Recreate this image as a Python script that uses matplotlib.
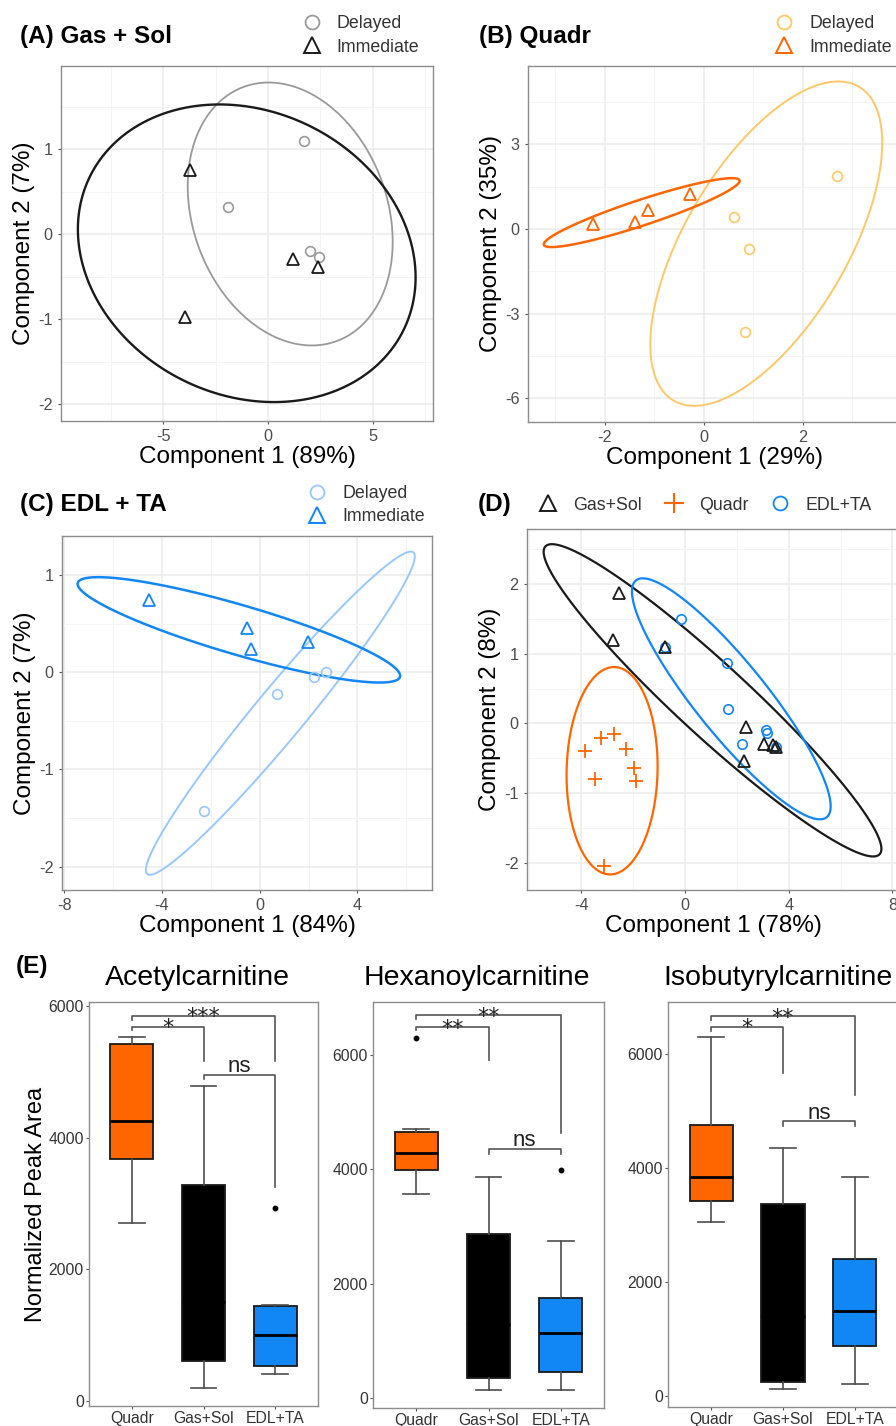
import numpy as np
import matplotlib.pyplot as plt
from matplotlib.lines import Line2D
from matplotlib.patches import Polygon

plt.rcParams['font.family'] = ['Liberation Sans', 'DejaVu Sans']
plt.rcParams['axes.unicode_minus'] = False

W, H = 896, 1426

# colours
ORANGE = '#FF6600'
LIGHT_ORANGE = '#FFC766'
BLUE = '#1187F5'
LIGHT_BLUE = '#96C8FF'
GREY = '#9A9A9A'
BLACK = '#1A1A1A'

# ---- (A) Gas + Sol scores ----
a_del_x = [1.7, -1.9, 2.0, 2.43]
a_del_y = [1.1, 0.32, -0.2, -0.27]
a_imm_x = [-3.7, 1.2, 2.4, -3.95]
a_imm_y = [0.75, -0.29, -0.39, -0.97]

# ---- (B) Quadr scores ----
b_del_x = [2.68, 0.6, 0.92, 0.84]
b_del_y = [1.88, 0.41, -0.72, -3.66]
b_imm_x = [-2.24, -1.38, -1.12, -0.28]
b_imm_y = [0.17, 0.23, 0.66, 1.25]

# ---- (C) EDL + TA scores ----
c_del_x = [-2.28, 0.72, 2.21, 2.72]
c_del_y = [-1.43, -0.22, -0.045, 0.006]
c_imm_x = [-4.51, -0.52, -0.37, 1.99]
c_imm_y = [0.74, 0.45, 0.24, 0.31]

# ---- (D) all muscles ----
d_gas_x = [-2.54, -2.76, -0.78, 2.35, 2.26, 3.06, 3.51, 3.4]
d_gas_y = [1.87, 1.20, 1.09, -0.05, -0.53, -0.29, -0.33, -0.31]
d_quad_x = [-3.84, -3.46, -3.22, -2.72, -2.27, -1.98, -1.88, -3.11]
d_quad_y = [-0.40, -0.79, -0.21, -0.15, -0.36, -0.63, -0.82, -2.04]
d_edl_x = [-0.15, 1.62, 1.64, 2.18, 3.12, 3.16, -0.78, 3.5]
d_edl_y = [1.50, 0.87, 0.21, -0.29, -0.09, -0.14, 1.09, -0.33]

# ---- (E) box plot summaries ----
groups = ['Quadr', 'Gas+Sol', 'EDL+TA']
box_colors = [ORANGE, '#000000', BLUE]

acetyl_lo = [2708, 202, 421]
acetyl_q1 = [3680, 618, 536]
acetyl_med = [4252, 1500, 1002]
acetyl_q3 = [5417, 3276, 1438]
acetyl_hi = [5528, 4788, 1468]
acetyl_out = [[], [], [2926]]
acetyl_sig_top = [5680, 5847, 4946]
acetyl_sig_left = [5623, 5786, 4890]
acetyl_sig_right = [5163, 5153, 3255]
acetyl_sig_lab = ['*', '***', 'ns']

hexa_lo = [3567, 135, 135]
hexa_q1 = [3982, 350, 450]
hexa_med = [4280, 1300, 1138]
hexa_q3 = [4648, 2862, 1741]
hexa_hi = [4701, 3860, 2750]
hexa_out = [[6300], [], [3988]]
hexa_sig_top = [6485, 6690, 4350]
hexa_sig_left = [6440, 6627, 4263]
hexa_sig_right = [5914, 4630, 4263]
hexa_sig_lab = ['**', '**', 'ns']

isob_lo = [3061, 123, 211]
isob_q1 = [3430, 240, 878]
isob_med = [3851, 1400, 1485]
isob_q3 = [4764, 3366, 2406]
isob_hi = [6292, 4355, 3846]
isob_out = [[], [], []]
isob_sig_top = [6481, 6660, 4820]
isob_sig_left = [6411, 6590, 4733]
isob_sig_right = [5668, 5285, 4733]
isob_sig_lab = ['*', '**', 'ns']

sig_pairs = [(1, 2), (1, 3), (2, 3)]

fig = plt.figure(figsize=(W / 100, H / 100), dpi=100)
fig.patch.set_facecolor('white')


def px_axes(l, t, r, b):
    return fig.add_axes([l / W, 1 - b / H, (r - l) / W, (b - t) / H])


def draw_ellipse(ax, x, y, color, lw, level=0.95, n=300):
    # normal-theory confidence ellipse around the group's points
    x = np.asarray(x, float)
    y = np.asarray(y, float)
    cov = np.cov(x, y)
    t = np.sqrt(-2 * np.log(1 - level))
    L = np.linalg.cholesky(cov)
    a = np.linspace(0, 2 * np.pi, n, endpoint=False)
    pts = (L @ np.vstack([np.cos(a), np.sin(a)]) * t).T + [x.mean(), y.mean()]
    ax.add_patch(Polygon(pts, closed=True, fill=False, edgecolor=color, lw=lw,
                         joinstyle='round'))


def style_score(ax, xlim, ylim, xmaj, xmin, ymaj, ymin, xlabel, ylabel):
    ax.set_xlim(xlim)
    ax.set_ylim(ylim)
    ax.set_xticks(xmaj)
    ax.set_xticks(xmin, minor=True)
    ax.set_yticks(ymaj)
    ax.set_yticks(ymin, minor=True)
    ax.grid(which='major', color='#EBEBEB', lw=1.1)
    ax.grid(which='minor', color='#F4F4F4', lw=0.7)
    ax.set_axisbelow(True)
    ax.tick_params(which='minor', length=0)
    ax.tick_params(which='major', length=2.5, color='#555555',
                   labelcolor='#4D4D4D', labelsize=11.7, pad=3.5)
    for s in ax.spines.values():
        s.set_color('#8C8C8C')
        s.set_linewidth(1.0)
    ax.set_xlabel(xlabel, fontsize=17.5, labelpad=1)
    ax.set_ylabel(ylabel, fontsize=17.5, labelpad=2)


def score_pair(ax, dx, dy, ix, iy, c_del, c_imm, lw_del=1.3, lw_imm=1.7):
    draw_ellipse(ax, dx, dy, c_del, lw_del)
    draw_ellipse(ax, ix, iy, c_imm, lw_imm)
    ax.plot(dx, dy, ls='none', marker='o', ms=7, mfc='none', mec=c_del, mew=1.2)
    ax.plot(ix, iy, ls='none', marker='^', ms=8.5, mfc='none', mec=c_imm, mew=1.3)


def add_legend(handles, labels, x_px, y_px, ncol=1, colsp=1.8):
    fig.legend(handles, labels, loc='center left',
               bbox_to_anchor=(x_px / W, 1 - y_px / H), ncol=ncol,
               frameon=False, fontsize=12.8, handlelength=1.0,
               handletextpad=0.9, labelspacing=0.35, columnspacing=colsp,
               borderpad=0, borderaxespad=0, labelcolor='#333333')


def circ(c):
    return Line2D([], [], ls='none', marker='o', ms=10, mfc='none', mec=c, mew=1.3)


def tri(c):
    return Line2D([], [], ls='none', marker='^', ms=11, mfc='none', mec=c, mew=1.4)


def cross(c):
    return Line2D([], [], ls='none', marker='+', ms=14, mec=c, mew=1.5)


def title(x, y, s):
    fig.text(x / W, 1 - y / H, s, fontsize=17.5, fontweight='bold',
             ha='left', va='center')


# (A)
ax = px_axes(61, 66, 433, 421)
score_pair(ax, a_del_x, a_del_y, a_imm_x, a_imm_y, GREY, BLACK)
style_score(ax, (-9.86, 7.86), (-2.2, 1.98), [-5, 0, 5], [-7.5, -2.5, 2.5, 7.5],
            [-2, -1, 0, 1], [-1.5, -0.5, 0.5, 1.5],
            'Component 1 (89%)', 'Component 2 (7%)')
title(20, 36, '(A) Gas + Sol')
add_legend([circ(GREY), tri(BLACK)], ['Delayed', 'Immediate'], 302.7, 35.5)

# (B)
ax = px_axes(528, 66, 900, 422)
score_pair(ax, b_del_x, b_del_y, b_imm_x, b_imm_y, LIGHT_ORANGE, ORANGE, 1.4, 1.8)
style_score(ax, (-3.55, 3.96), (-6.84, 5.77), [-2, 0, 2], [-3, -1, 1, 3],
            [-6, -3, 0, 3], [-4.5, -1.5, 1.5, 4.5],
            'Component 1 (29%)', 'Component 2 (35%)')
title(479, 36, '(B) Quadr')
add_legend([circ(LIGHT_ORANGE), tri(ORANGE)], ['Delayed', 'Immediate'], 775.4, 35.5)

# (C)
ax = px_axes(62, 536, 432, 890)
score_pair(ax, c_del_x, c_del_y, c_imm_x, c_imm_y, LIGHT_BLUE, BLUE, 1.4, 1.8)
style_score(ax, (-8.09, 7.05), (-2.24, 1.40), [-8, -4, 0, 4], [-6, -2, 2, 6],
            [-2, -1, 0, 1], [-1.5, -0.5, 0.5],
            'Component 1 (84%)', 'Component 2 (7%)')
title(20, 505, '(C) EDL + TA')
add_legend([circ(LIGHT_BLUE), tri(BLUE)], ['Delayed', 'Immediate'], 308.4, 505)

# (D)
ax = px_axes(527, 529, 900, 890)
draw_ellipse(ax, d_gas_x, d_gas_y, BLACK, 1.6)
draw_ellipse(ax, d_quad_x, d_quad_y, ORANGE, 1.6)
draw_ellipse(ax, d_edl_x, d_edl_y, BLUE, 1.6)
ax.plot(d_quad_x, d_quad_y, ls='none', marker='+', ms=10, mec=ORANGE, mew=1.3)
ax.plot(d_edl_x, d_edl_y, ls='none', marker='o', ms=6.8, mfc='none', mec=BLUE, mew=1.2)
ax.plot(d_gas_x, d_gas_y, ls='none', marker='^', ms=8.5, mfc='none', mec=BLACK, mew=1.3)
style_score(ax, (-6.09, 8.29), (-2.38, 2.78), [-4, 0, 4, 8], [-6, -2, 2, 6],
            [-2, -1, 0, 1, 2], [-1.5, -0.5, 0.5, 1.5, 2.5],
            'Component 1 (78%)', 'Component 2 (8%)')
title(478, 505, '(D)')
add_legend([tri(BLACK), cross(ORANGE), circ(BLUE)], ['Gas+Sol', 'Quadr', 'EDL+TA'],
           539.4, 505, ncol=3, colsp=1.3)


# (E) box plots
def box_panel(rect, ylim, lo, q1, med, q3, hi, out, s_top, s_left, s_right, s_lab,
              name, name_x, ylabel=None):
    ax = px_axes(*rect)
    stats = [dict(med=med[i], q1=q1[i], q3=q3[i], whislo=lo[i], whishi=hi[i],
                  fliers=out[i]) for i in range(3)]
    bp = ax.bxp(stats, positions=[1, 2, 3], widths=0.6, capwidths=0.36,
                patch_artist=True, showfliers=True,
                boxprops=dict(edgecolor='#1A1A1A', linewidth=1.3),
                medianprops=dict(color='black', linewidth=2.0, solid_capstyle='butt'),
                whiskerprops=dict(color='#4D4D4D', linewidth=1.2),
                capprops=dict(color='#4D4D4D', linewidth=1.2),
                flierprops=dict(marker='o', markersize=3.2, markerfacecolor='black',
                                markeredgecolor='black'))
    for patch, c in zip(bp['boxes'], box_colors):
        patch.set_facecolor(c)
    for (x1, x2), top, l, r, lab in zip(sig_pairs, s_top, s_left, s_right, s_lab):
        ax.plot([x1, x1, x2, x2], [l, top, top, r], color='#555555', lw=1.2)
        if lab == 'ns':
            ax.annotate(lab, xy=((x1 + x2) / 2, top), xytext=(0, 2),
                        textcoords='offset points', ha='center', va='baseline',
                        fontsize=16, color='#222222')
        else:
            ax.annotate(lab, xy=((x1 + x2) / 2, top), xytext=(0, -5.5),
                        textcoords='offset points', ha='center', va='baseline',
                        fontsize=16, color='#222222', family='DejaVu Sans')
    ax.set_xlim(0.4, 3.6)
    ax.set_ylim(ylim)
    ax.set_xticks([1, 2, 3])
    ax.set_xticklabels(groups)
    ax.set_yticks([0, 2000, 4000, 6000])
    ax.tick_params(length=2.2, color='#555555', labelcolor='#333333',
                   labelsize=11.3, pad=1.5)
    for s in ax.spines.values():
        s.set_color('#8C8C8C')
        s.set_linewidth(1.0)
    if ylabel:
        ax.set_ylabel(ylabel, fontsize=17, labelpad=1)
    fig.text(name_x / W, 1 - 978 / H, name, fontsize=20.5, ha='center', va='center')
    return ax


box_panel((89, 1002, 318, 1406), (-71, 6055), acetyl_lo, acetyl_q1, acetyl_med,
          acetyl_q3, acetyl_hi, acetyl_out, acetyl_sig_top, acetyl_sig_left,
          acetyl_sig_right, acetyl_sig_lab, 'Acetylcarnitine', 197,
          ylabel='Normalized Peak Area')
box_panel((373, 1002, 604, 1408), (-175, 6925), hexa_lo, hexa_q1, hexa_med,
          hexa_q3, hexa_hi, hexa_out, hexa_sig_top, hexa_sig_left,
          hexa_sig_right, hexa_sig_lab, 'Hexanoylcarnitine', 477)
box_panel((668, 1002, 898, 1407), (-193, 6914), isob_lo, isob_q1, isob_med,
          isob_q3, isob_hi, isob_out, isob_sig_top, isob_sig_left,
          isob_sig_right, isob_sig_lab, 'Isobutyrylcarnitine', 778)

fig.text(16 / W, 1 - 967 / H, '(E)', fontsize=17.5, fontweight='bold',
         ha='left', va='center')

fig.savefig('out.png', dpi=100)
